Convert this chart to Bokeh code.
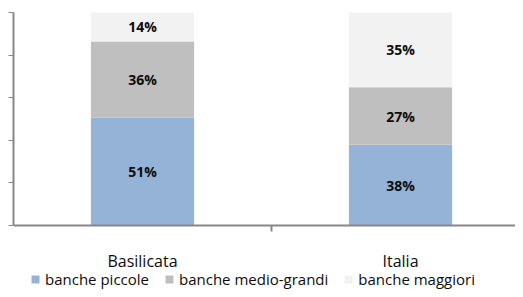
from bokeh.plotting import figure
from bokeh.models import (ColumnDataSource, Range1d, FixedTicker, Legend, LegendItem,
                          LabelSet)
from bokeh.core.properties import value
from bokeh.embed import file_html
from bokeh.resources import INLINE

# ---- data ----
categories = ["Basilicata", "Italia"]
series_names = ["banche piccole", "banche medio-grandi", "banche maggiori"]
piccole = [50.6, 37.9]
medio_grandi = [35.8, 27.0]
maggiori = [13.6, 35.1]
y_ticks = [0, 20, 40, 60, 80, 100]

colors = ["#95B3D7", "#BFBFBF", "#F2F2F2"]
FONT = "Open Sans"

xpos = [i + 0.5 for i in range(len(categories))]
keys = ["piccole", "medio_grandi", "maggiori"]
src = ColumnDataSource(dict(x=xpos, piccole=piccole, medio_grandi=medio_grandi,
                            maggiori=maggiori))

# frame: top at 12px, value 0 at 225px, frame bottom at figure bottom (289px)
H, TOP, ZERO = 289, 12, 225
ymin = -100.0 * (H - ZERO) / (ZERO - TOP)

p = figure(width=515, height=H, output_backend="svg", toolbar_location=None,
           x_range=Range1d(0, 1.9457), y_range=Range1d(ymin, 100),
           min_border_left=13, min_border_right=0, min_border_top=TOP,
           min_border_bottom=0)
p.outline_line_color = None
p.grid.visible = False
p.background_fill_color = "white"
p.border_fill_color = "white"

rs = p.vbar_stack(keys, x="x", width=0.4, source=src, color=colors, line_color=None)

# segment labels
lx, ly, lt = [], [], []
series = [piccole, medio_grandi, maggiori]
for j in range(len(categories)):
    base = 0.0
    for s in series:
        v = s[j]
        lx.append(xpos[j])
        ly.append(base + v / 2)
        lt.append(f"{round(v)}%")
        base += v
lsrc = ColumnDataSource(dict(x=lx, y=ly, t=lt))
p.add_layout(LabelSet(x="x", y="y", text="t", source=lsrc, text_align="center",
                      text_baseline="middle", text_font=value(FONT),
                      text_font_style="bold", text_font_size="14px",
                      text_color="#0d0d0d"))

# y axis
ya = p.yaxis[0]
ya.ticker = FixedTicker(ticks=y_ticks)
ya.bounds = (0, 100)
ya.major_label_overrides = {t: "" for t in y_ticks}
ya.major_label_standoff = 0
ya.major_tick_out = 5
ya.major_tick_in = 0
ya.minor_tick_out = 0
ya.minor_tick_in = 0
ya.axis_line_color = "#878787"
ya.axis_line_width = 2
ya.major_tick_line_color = "#878787"
ya.major_tick_line_width = 1

# x axis (at value 0)
xa = p.xaxis[0]
xa.fixed_location = 0
xa.ticker = FixedTicker(ticks=xpos, minor_ticks=[1.0])
xa.major_label_overrides = {x: c for x, c in zip(xpos, categories)}
xa.major_label_text_font = FONT
xa.major_label_text_font_size = "16px"
xa.major_label_text_color = "#0d0d0d"
xa.major_label_standoff = 18
xa.major_tick_out = 0
xa.major_tick_in = 0
xa.minor_tick_out = 6
xa.minor_tick_in = 0
xa.minor_tick_line_color = "#878787"
xa.minor_tick_line_width = 2
xa.axis_line_color = "#878787"
xa.axis_line_width = 2

legend = Legend(items=[LegendItem(label=n, renderers=[r]) for n, r in zip(series_names, rs)],
                location=(17, 0), orientation="horizontal",
                glyph_width=10, glyph_height=10, label_standoff=5, spacing=15,
                padding=0, margin=0, border_line_color=None, background_fill_alpha=0,
                label_text_font=FONT, label_text_font_size="15px",
                label_text_color="#0d0d0d")
p.add_layout(legend)

open("out.html", "w").write(file_html(p, INLINE))
